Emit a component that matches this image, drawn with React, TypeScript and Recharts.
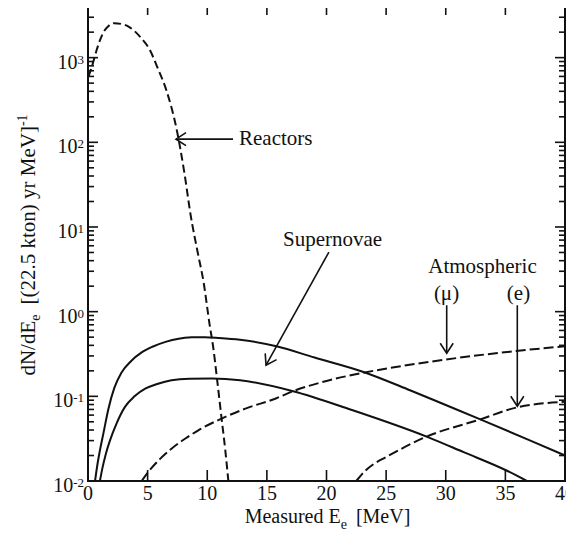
import React from 'react';
import { LineChart, Line, XAxis, YAxis, ReferenceLine, Customized } from 'recharts';

// ---- data ----
const reactorE = [0.05, 0.4, 0.7, 1.0, 1.3, 1.7, 2.2, 2.8, 3.5, 4.4, 5.2, 5.8, 6.6, 7.4, 8.1, 8.6, 9.2, 9.7, 10.2, 10.5, 10.8, 11.2, 11.5, 11.77];
const reactorN = [600, 850, 1200, 1600, 2000, 2350, 2550, 2500, 2280, 1740, 1220, 780, 400, 150, 42, 14, 5, 2.2, 0.7, 0.38, 0.17, 0.055, 0.024, 0.01];

const snHighE = [0.59, 0.8, 1.0, 1.3, 1.7, 2.2, 2.8, 3.6, 4.5, 5.4, 6.5, 7.6, 8.7, 9.8, 11, 12.75, 15.8, 19, 23.1, 27, 30, 32.9, 37.1, 40];
const snHighN = [0.01, 0.016, 0.023, 0.037, 0.07, 0.125, 0.19, 0.26, 0.33, 0.385, 0.44, 0.48, 0.497, 0.5, 0.49, 0.467, 0.39, 0.287, 0.194, 0.118, 0.079, 0.0535, 0.03, 0.02];

const snLowE = [1.0, 1.2, 1.5, 1.84, 2.4, 3.1, 3.9, 4.8, 5.8, 7.0, 8.5, 10.4, 12.75, 17.2, 22, 28.5, 31.5, 35.05, 36.8];
const snLowN = [0.01, 0.014, 0.021, 0.03, 0.048, 0.075, 0.1, 0.123, 0.14, 0.155, 0.161, 0.162, 0.155, 0.115, 0.07, 0.033, 0.0219, 0.0134, 0.01];

const atmMuE = [4.5, 5.06, 6, 7, 8.2, 9.25, 11.2, 13.2, 15.8, 17.2, 20, 23.1, 26.5, 30, 35.9, 40];
const atmMuN = [0.01, 0.0128, 0.018, 0.0241, 0.032, 0.0397, 0.0546, 0.0716, 0.095, 0.115, 0.152, 0.19, 0.23, 0.272, 0.343, 0.39];

const atmEE = [22.5, 23.2, 24, 25, 28.3, 32.9, 35.9, 40];
const atmEN = [0.01, 0.013, 0.016, 0.0192, 0.033, 0.0535, 0.0736, 0.086];

const xTicks = [0, 5, 10, 15, 20, 25, 30, 35, 40];
const yMajor = [0.01, 0.1, 1, 10, 100, 1000];
const yMinor = [
  0.02, 0.03, 0.04, 0.05, 0.06, 0.07, 0.08, 0.09,
  0.2, 0.3, 0.4, 0.5, 0.6, 0.7, 0.8, 0.9,
  2, 3, 4, 5, 6, 7, 8, 9,
  20, 30, 40, 50, 60, 70, 80, 90,
  200, 300, 400, 500, 600, 700, 800, 900,
  2000, 3000, 4000,
];
const yTicks = [...yMajor, ...yMinor].sort((a, b) => a - b);
const X_DOMAIN: [number, number] = [0, 40];
const Y_DOMAIN: [number, number] = [0.01, 4300];

// annotation arrows in data coordinates: [x1, y1, x2, y2]
const arrows: [number, number, number, number][] = [
  [12.16, 109, 7.38, 109],
  [20.2, 5.05, 14.93, 0.233],
  [30.08, 1.19, 30.08, 0.323],
  [36.0, 1.19, 36.0, 0.0764],
];

const toPts = (xs: number[], ys: number[]) => xs.map((x, i) => ({ x, y: ys[i] }));
const reactorData = toPts(reactorE, reactorN);
const snHighData = toPts(snHighE, snHighN);
const snLowData = toPts(snLowE, snLowN);
const atmMuData = toPts(atmMuE, atmMuN);
const atmEData = toPts(atmEE, atmEN);

// ---- layout / style ----
const W = 574;
const H = 533;
const MARGIN = { top: 4, right: 9, bottom: 0, left: 0 };
const Y_AXIS_W = 88;
const X_AXIS_H = 52;
const FONT = "'Liberation Serif', 'DejaVu Serif', serif";
const INK = '#111111';

const isMajor = (v: number) => yMajor.some((m) => Math.abs(m - v) / m < 1e-6);

const LeftTick = (props: any) => {
  const { x, y, payload } = props;
  const v = payload.value;
  if (!isMajor(v)) return <g />;
  const exp = Math.round(Math.log10(v));
  return (
    <text x={x - 4} y={y + 11} textAnchor="end" fontFamily={FONT} fontSize={20} fill={INK}>
      10<tspan dy={-5} fontSize={13}>{exp}</tspan>
    </text>
  );
};

const BottomTick = (props: any) => {
  const { x, y, payload } = props;
  return (
    <text x={x} y={y + 19} textAnchor="middle" fontFamily={FONT} fontSize={20} fill={INK}>
      {payload.value}
    </text>
  );
};

// frame drawn from the data-space corner segment
const FrameShape = (p: any) => {
  const x0 = Math.min(p.x1, p.x2);
  const y0 = Math.min(p.y1, p.y2);
  return (
    <rect x={x0} y={y0} width={Math.abs(p.x2 - p.x1)} height={Math.abs(p.y2 - p.y1)}
      fill="none" stroke={INK} strokeWidth={2} />
  );
};

// inward tick marks on both ends of a full-height / full-width segment
const XTickShape = (p: any) => {
  const yb = Math.max(p.y1, p.y2);
  const yt = Math.min(p.y1, p.y2);
  return (
    <g>
      <line x1={p.x1} x2={p.x1} y1={yb} y2={yb - 11} stroke={INK} strokeWidth={1.6} />
      <line x1={p.x1} x2={p.x1} y1={yt} y2={yt + 11} stroke={INK} strokeWidth={1.6} />
    </g>
  );
};

const makeYTickShape = (len: number) => (p: any) => {
  const xl = Math.min(p.x1, p.x2);
  const xr = Math.max(p.x1, p.x2);
  return (
    <g>
      <line x1={xl} x2={xl + len} y1={p.y1} y2={p.y1} stroke={INK} strokeWidth={1.6} />
      <line x1={xr} x2={xr - len} y1={p.y1} y2={p.y1} stroke={INK} strokeWidth={1.6} />
    </g>
  );
};
const YMajorTickShape = makeYTickShape(10);
const YMinorTickShape = makeYTickShape(6);

const ArrowShape = (p: any) => {
  const { x1, y1, x2, y2 } = p;
  const ang = Math.atan2(y2 - y1, x2 - x1);
  const L = 10;
  const Wd = 6.5;
  const bx = x2 - L * Math.cos(ang);
  const by = y2 - L * Math.sin(ang);
  const px = -Math.sin(ang) * Wd;
  const py = Math.cos(ang) * Wd;
  return (
    <g>
      <line x1={x1} y1={y1} x2={x2} y2={y2} stroke={INK} strokeWidth={1.6} />
      <path d={`M${bx + px},${by + py} L${x2},${y2} L${bx - px},${by - py}`} fill="none" stroke={INK} strokeWidth={1.6} />
    </g>
  );
};

const Annotations = () => (
  <g fontFamily={FONT} fill={INK}>
    <text transform="translate(35,245) rotate(-90)" textAnchor="middle" fontSize={21}>
      dN/dE<tspan dy={5} fontSize={14}>e</tspan>
      <tspan dy={-5} dx={10}>[(22.5 kton) yr MeV]</tspan>
      <tspan dy={-8} fontSize={14}>-1</tspan>
    </text>
    <text x={327.5} y={523} textAnchor="middle" fontSize={20}>
      Measured E<tspan dy={6} fontSize={14}>e</tspan>
      <tspan dy={-6} dx={9}>[MeV]</tspan>
    </text>
    <text x={239} y={145} fontSize={21}>Reactors</text>
    <text x={283} y={245.5} fontSize={21}>Supernovae</text>
    <text x={482.5} y={273} textAnchor="middle" fontSize={21}>Atmospheric</text>
    <text x={446.5} y={300} textAnchor="middle" fontSize={21}>(μ)</text>
    <text x={518.5} y={300} textAnchor="middle" fontSize={21}>(e)</text>
  </g>
);

export default function App() {
  const common = { type: 'monotone' as const, dataKey: 'y', stroke: INK, strokeWidth: 2, fill: 'none', dot: false, activeDot: false, isAnimationActive: false, xAxisId: 'b', yAxisId: 'l' };
  const ref = { xAxisId: 'b', yAxisId: 'l', ifOverflow: 'visible' as const };
  return (
    <div style={{ margin: '-8px 0 0 -8px', width: W, height: H }}>
      <LineChart width={W} height={H} margin={MARGIN}>
        <XAxis xAxisId="b" dataKey="x" type="number" domain={X_DOMAIN} ticks={xTicks} interval={0}
          height={X_AXIS_H} axisLine={false} tickLine={false} tickSize={0} tickMargin={0}
          tick={(p: any) => <BottomTick {...p} />} />
        <YAxis yAxisId="l" type="number" scale="log" domain={Y_DOMAIN} ticks={yTicks} interval={0}
          width={Y_AXIS_W} axisLine={false} tickLine={false} tickSize={0} tickMargin={0}
          tick={(p: any) => <LeftTick {...p} />} />
        <Line {...common} data={reactorData} strokeDasharray="8 4" />
        <Line {...common} data={snHighData} />
        <Line {...common} data={snLowData} />
        <Line {...common} data={atmMuData} strokeDasharray="10 4" />
        <Line {...common} data={atmEData} strokeDasharray="10 4" />
        {arrows.map((a, i) => (
          <ReferenceLine key={`ar${i}`} {...ref}
            segment={[{ x: a[0], y: a[1] }, { x: a[2], y: a[3] }]} shape={ArrowShape} />
        ))}
        <ReferenceLine {...ref}
          segment={[{ x: X_DOMAIN[0], y: Y_DOMAIN[0] }, { x: X_DOMAIN[1], y: Y_DOMAIN[1] }]} shape={FrameShape} />
        {xTicks.map((t) => (
          <ReferenceLine key={`xt${t}`} {...ref}
            segment={[{ x: t, y: Y_DOMAIN[0] }, { x: t, y: Y_DOMAIN[1] }]} shape={XTickShape} />
        ))}
        {yTicks.map((t) => (
          <ReferenceLine key={`yt${t}`} {...ref}
            segment={[{ x: X_DOMAIN[0], y: t }, { x: X_DOMAIN[1], y: t }]}
            shape={isMajor(t) ? YMajorTickShape : YMinorTickShape} />
        ))}
        <Customized component={Annotations} />
      </LineChart>
    </div>
  );
}
